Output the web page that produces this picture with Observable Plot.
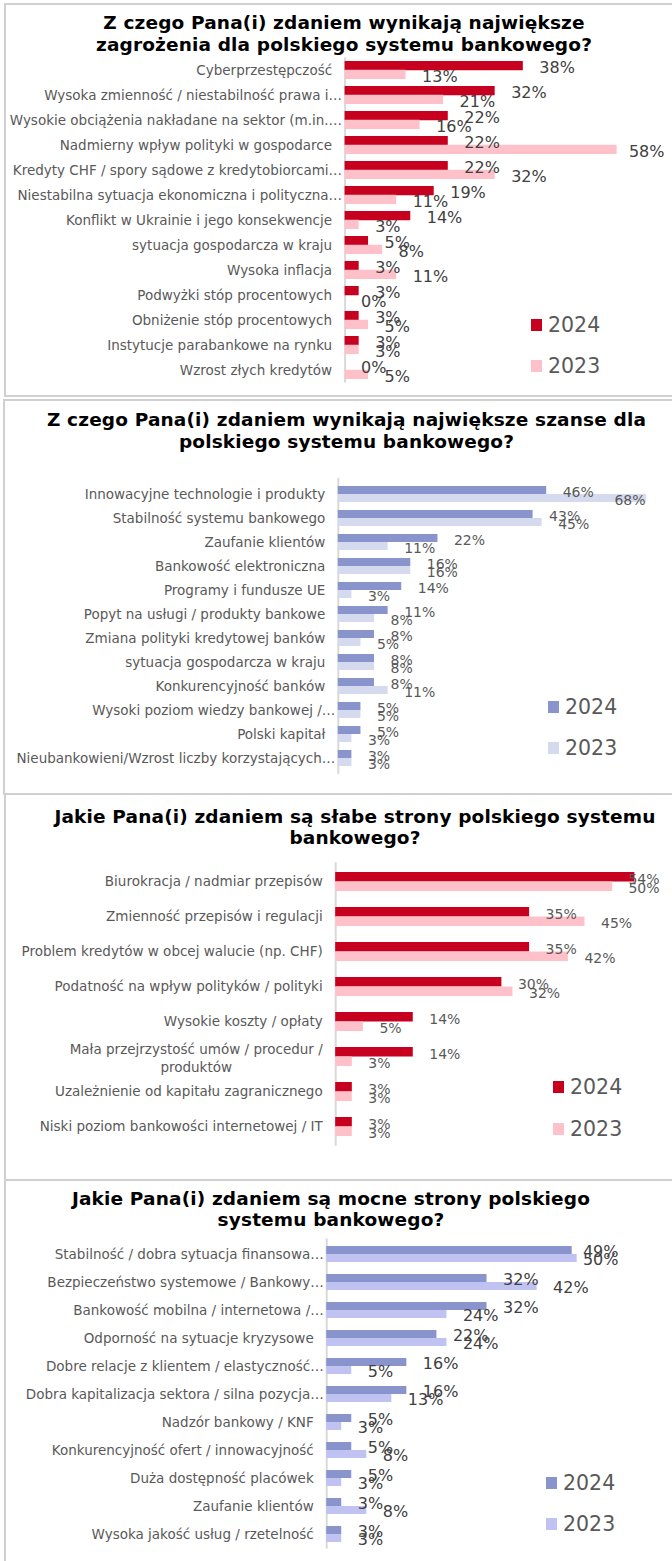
<!DOCTYPE html>
<html><head><meta charset="utf-8">
<script src="https://cdn.jsdelivr.net/npm/d3@7"></script>
<script src="https://cdn.jsdelivr.net/npm/@observablehq/plot@0.6"></script>
<style>
body{margin:0;background:#fff;width:672px;height:1561px;overflow:hidden;position:relative;font-family:"DejaVu Sans",sans-serif;}
.panel{position:absolute;box-sizing:border-box;border:2px solid #d0d0d0;background:#fff;}
.title{position:absolute;font-weight:bold;font-size:18.5px;letter-spacing:0.15px;line-height:21.5px;color:#000;white-space:nowrap;text-align:center;width:680px;}
.leg{position:absolute;display:flex;align-items:center;color:#595959;white-space:nowrap;height:24px;line-height:24px;}
.leg i{display:inline-block;width:11px;height:12px;margin-right:6px;}
.chartwrap{position:absolute;left:0;}
</style></head><body>
<script>
// ---------- DATA ----------
const seriesNames = ["2024", "2023"];

const threatTitle = ["Z czego Pana(i) zdaniem wynikają największe", "zagrożenia dla polskiego systemu bankowego?"];
const threatCats = [
  "Cyberprzestępczość",
  "Wysoka zmienność / niestabilność prawa i…",
  "Wysokie obciążenia nakładane na sektor (m.in.…",
  "Nadmierny wpływ polityki w gospodarce",
  "Kredyty CHF / spory sądowe z kredytobiorcami…",
  "Niestabilna sytuacja ekonomiczna i polityczna…",
  "Konflikt w Ukrainie i jego konsekwencje",
  "sytuacja gospodarcza w kraju",
  "Wysoka inflacja",
  "Podwyżki stóp procentowych",
  "Obniżenie stóp procentowych",
  "Instytucje parabankowe na rynku",
  "Wzrost złych kredytów"
];
const threat2024 = [38, 32, 22, 22, 22, 19, 14, 5, 3, 3, 3, 3, 0];
const threat2023 = [13, 21, 16, 58, 32, 11, 3, 8, 11, 0, 5, 3, 5];

const chanceTitle = ["Z czego Pana(i) zdaniem wynikają największe szanse dla", "polskiego systemu bankowego?"];
const chanceCats = [
  "Innowacyjne technologie i produkty",
  "Stabilność systemu bankowego",
  "Zaufanie klientów",
  "Bankowość elektroniczna",
  "Programy i fundusze UE",
  "Popyt na usługi / produkty bankowe",
  "Zmiana polityki kredytowej banków",
  "sytuacja gospodarcza w kraju",
  "Konkurencyjność banków",
  "Wysoki poziom wiedzy bankowej /…",
  "Polski kapitał",
  "Nieubankowieni/Wzrost liczby korzystających…"
];
const chance2024 = [46, 43, 22, 16, 14, 11, 8, 8, 8, 5, 5, 3];
const chance2023 = [68, 45, 11, 16, 3, 8, 5, 8, 11, 5, 3, 3];

const weakTitle = ["Jakie Pana(i) zdaniem są słabe strony polskiego systemu", "bankowego?"];
const weakCats = [
  "Biurokracja / nadmiar przepisów",
  "Zmienność przepisów i regulacji",
  "Problem kredytów w obcej walucie (np. CHF)",
  "Podatność na wpływ polityków / polityki",
  "Wysokie koszty / opłaty",
  "Mała przejrzystość umów / procedur /\nproduktów",
  "Uzależnienie od kapitału zagranicznego",
  "Niski poziom bankowości internetowej / IT"
];
const weak2024 = [54, 35, 35, 30, 14, 14, 3, 3];
const weak2023 = [50, 45, 42, 32, 5, 3, 3, 3];

const strongTitle = ["Jakie Pana(i) zdaniem są mocne strony polskiego", "systemu bankowego?"];
const strongCats = [
  "Stabilność / dobra sytuacja finansowa…",
  "Bezpieczeństwo systemowe / Bankowy…",
  "Bankowość mobilna / internetowa /…",
  "Odporność na sytuacje kryzysowe",
  "Dobre relacje z klientem / elastyczność…",
  "Dobra kapitalizacja sektora / silna pozycja…",
  "Nadzór bankowy / KNF",
  "Konkurencyjność ofert / innowacyjność",
  "Duża dostępność placówek",
  "Zaufanie klientów",
  "Wysoka jakość usług / rzetelność"
];
const strong2024 = [49, 32, 32, 22, 16, 16, 5, 5, 5, 3, 3];
const strong2023 = [50, 42, 24, 24, 5, 13, 3, 8, 3, 8, 3];

// ---------- LAYOUT / STYLE ----------
const CAT_FONT = '"DejaVu Sans", sans-serif';
const RED24 = "#c6001e", RED23 = "#ffc1c9";
const layouts = [
  {box:{left:4, top:3, width:700, height:394}, titleX:344, titleY:23,
   axisX:344.6, k:4.69, center0:70, step:25, bw:17.5, edge:664,
   valueFont:16, valueColor:"#404040", valueDy:1.5, c24:RED24, c23:RED23,
   legX:531, legY:[324.5, 365.5]},
  {box:{left:3, top:399, width:700, height:396}, titleX:346.5, titleY:420,
   axisX:337.8, k:4.53, center0:490, step:24.7, bw:16, edge:645,
   valueFont:14, valueColor:"#595959", valueDy:2.5, c24:"#8a94cc", c23:"#d6daef",
   legX:548, legY:[706.5, 747.5]},
  {box:{left:4, top:793, width:700, height:388}, titleX:355, titleY:816.7,
   axisX:335.2, k:5.54, center0:880, step:35.43, bw:19, edge:659,
   valueFont:14, valueColor:"#595959", valueDy:2, c24:RED24, c23:RED23,
   legX:553, legY:[1086.5, 1128.5]},
  {box:{left:4, top:1179, width:700, height:400}, titleX:331, titleY:1198.5,
   axisX:326.2, k:5.01, center0:1252.7, step:28.16, bw:16, edge:618,
   valueFont:16, valueColor:"#404040", valueDy:1, c24:"#8a94cc", c23:"#c0c3f1",
   legX:546, legY:[1482.5, 1524]}
];

const ctx = document.createElement("canvas").getContext("2d");
function tw(s, font) { ctx.font = font; return ctx.measureText(s).width; }

function drawPanel(L, title, cats, v24, v23) {
  const box = document.createElement("div");
  box.className = "panel";
  Object.assign(box.style, {left: L.box.left + "px", top: L.box.top + "px", width: L.box.width + "px", height: L.box.height + "px"});
  document.body.appendChild(box);

  const top = L.box.top, H = L.box.height, n = cats.length;
  const r0 = L.center0 - L.step / 2 - top, r1 = r0 + L.step * n;
  const p = 1 - L.bw / L.step;
  const rows = s => cats.map((c, i) => ({c, v: s[i]}));
  const d24 = rows(v24), d23 = rows(v23);
  const vfont = `${L.valueFont}px "DejaVu Sans"`;
  const valueDx = 16;
  const lab = d => d.v + "%";
  const fits = d => L.axisX + d.v * L.k + valueDx + tw(lab(d), vfont) <= L.edge;
  const single = cats.filter(c => !c.includes("\n"));
  const truncated = single.filter(c => c.endsWith("…"));
  const normal = single.filter(c => !c.endsWith("…"));
  const wrapped = cats.filter(c => c.includes("\n"));
  const catSize = 13.5;
  const catStyle = {fontFamily: CAT_FONT, fontSize: catSize, fill: "#595959"};
  const catCanvas = `${catSize}px ${CAT_FONT}`;
  const valueMarks = (data, dy) => [
    Plot.text(data.filter(fits), {x: "v", y: "c", text: lab, textAnchor: "start", dx: valueDx, dy,
      fontSize: L.valueFont, fill: L.valueColor}),
    Plot.text(data.filter(d => !fits(d)), {y: "c", text: lab, frameAnchor: "right", textAnchor: "end", dy,
      fontSize: L.valueFont, fill: L.valueColor})
  ];
  const marks = [
    Plot.ruleX([0], {stroke: "#d9d9d9", strokeWidth: 2}),
    Plot.barX(d24, {x: "v", y: "c", fill: L.c24, insetTop: 0, insetBottom: L.bw / 2}),
    Plot.barX(d23, {x: "v", y: "c", fill: L.c23, insetTop: L.bw / 2, insetBottom: 0}),
    Plot.text(normal, {y: d => d, text: d => d, frameAnchor: "left", textAnchor: "end", dx: -13, ...catStyle}),
    Plot.text(truncated, {y: d => d, text: d => d, frameAnchor: "left", textAnchor: "end", dx: -3, ...catStyle}),
    ...wrapped.map(c => Plot.text([c], {y: d => d, text: d => d, frameAnchor: "left", textAnchor: "middle",
      lineHeight: 18 / catSize,
      dx: -(13 + Math.max(...c.split("\n").map(s => tw(s, catCanvas))) / 2), ...catStyle})),
    ...valueMarks(d24, -L.bw / 4 + L.valueDy),
    ...valueMarks(d23, L.bw / 4 + L.valueDy)
  ];
  const svg = Plot.plot({
    width: 672, height: H,
    marginLeft: L.axisX, marginRight: 672 - L.edge, marginTop: r0, marginBottom: H - r1,
    x: {domain: [0, 100], range: [L.axisX, L.axisX + 100 * L.k], axis: null},
    y: {domain: cats, range: [r0, r1], paddingInner: p, paddingOuter: p / 2, axis: null},
    style: {fontFamily: '"DejaVu Sans", sans-serif', background: "transparent", overflow: "visible"},
    marks
  });
  const wrap = document.createElement("div");
  wrap.className = "chartwrap";
  wrap.style.top = top + "px";
  wrap.appendChild(svg);
  document.body.appendChild(wrap);

  const t = document.createElement("div");
  t.className = "title";
  t.innerHTML = title.join("<br>");
  t.style.left = (L.titleX - 340) + "px";
  t.style.top = (L.titleY - 21.5 / 2) + "px";
  document.body.appendChild(t);

  [L.c24, L.c23].forEach((col, i) => {
    const lg = document.createElement("div");
    lg.className = "leg";
    lg.style.left = L.legX + "px";
    lg.style.top = (L.legY[i] - 12) + "px";
    lg.style.fontSize = "20.5px";
    const sq = document.createElement("i");
    sq.style.background = col;
    lg.appendChild(sq);
    lg.appendChild(document.createTextNode(seriesNames[i]));
    document.body.appendChild(lg);
  });
}

drawPanel(layouts[0], threatTitle, threatCats, threat2024, threat2023);
drawPanel(layouts[1], chanceTitle, chanceCats, chance2024, chance2023);
drawPanel(layouts[2], weakTitle, weakCats, weak2024, weak2023);
drawPanel(layouts[3], strongTitle, strongCats, strong2024, strong2023);
</script>
</body></html>
